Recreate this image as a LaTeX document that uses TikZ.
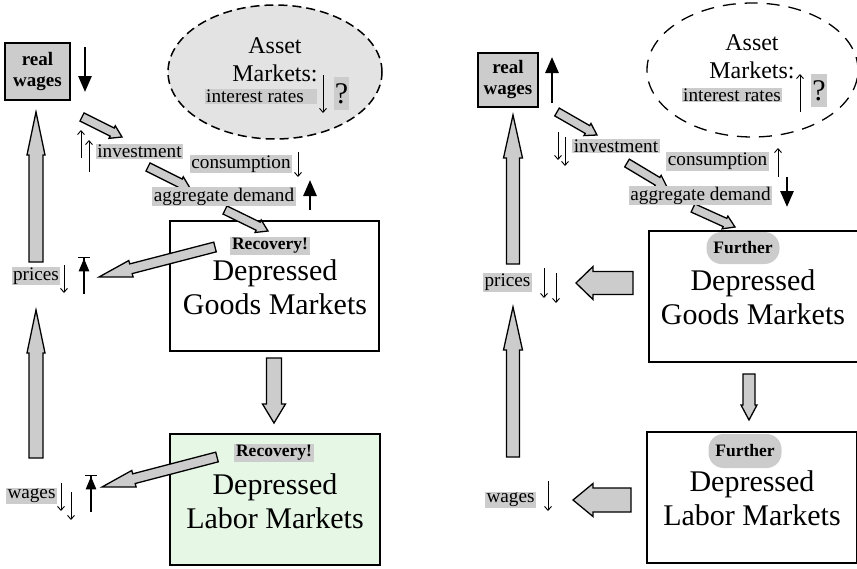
\documentclass[tikz,border=0pt]{standalone}
\usepackage{fontspec}
\setmainfont{Liberation Serif}
\usetikzlibrary{calc,arrows.meta,shapes.geometric}
\definecolor{lgray}{HTML}{CCCCCC}
\definecolor{egray}{HTML}{E3E3E3}
\definecolor{lgreen}{HTML}{E6F7E6}
% #1 options, #2 tail, #3 tip, #4 shaft half width, #5 head half width, #6 head length
\newcommand{\blockarr}[6][]{%
  \coordinate (ba-c) at ($(#3)!#6!(#2)$);
  \draw[blockarrow,#1] ($(#2)!#4!90:(#3)$) -- ($(ba-c)!#4!90:(#3)$) -- ($(ba-c)!#5!90:(#3)$) -- (#3)
     -- ($(ba-c)!#5!-90:(#3)$) -- ($(ba-c)!#4!-90:(#3)$) -- ($(#2)!#4!-90:(#3)$) -- cycle;
}
\begin{document}
\begin{tikzpicture}[x=1pt,y=-1pt,
 lbl/.style={fill=lgray,inner xsep=1.5pt,inner ysep=1pt,font=\fontsize{19.2}{21}\selectfont},
 bl/.style={fill=lgray,inner xsep=2pt,inner ysep=1pt,font=\bfseries\fontsize{17.5}{19}\selectfont},
 further/.style={fill=lgray,rounded corners=15pt,minimum width=73pt,minimum height=32pt,font=\bfseries\fontsize{17.5}{19}\selectfont,inner sep=0pt},
 big/.style={align=center,font=\fontsize{30}{34}\selectfont,inner sep=0pt},
 asset/.style={align=center,font=\fontsize{24}{28}\selectfont,inner sep=0pt},
 market/.style={draw,line width=2pt,inner sep=0pt},
 rwbox/.style={draw,fill=lgray,line width=1.5pt,inner sep=0pt,align=center,font=\bfseries\fontsize{19}{21}\selectfont},
 qbox/.style={fill=lgray,inner xsep=1pt,inner ysep=0pt,minimum height=33pt,font=\fontsize{30}{30}\selectfont},
 blockarrow/.style={draw,fill=lgray,line width=1.3pt,line join=miter},
 thinarr/.style={line width=0.9pt,-{Straight Barb[length=4pt,width=7pt]}},
 thickarr/.style={line width=2.8pt,-{Triangle[length=16pt,width=13pt]}},
 tarr/.style={line width=2.4pt,-{Triangle[length=13pt,width=10pt]Bar[width=12pt,line width=1.3pt]}},
]
\useasboundingbox (0,0) rectangle (857,568);

% ================= LEFT PANEL =================
\node[ellipse,draw,fill=egray,line width=1.5pt,dash pattern=on 9pt off 5pt,minimum width=214pt,minimum height=134pt] (a1) at (275,72) {};
\node[market,minimum width=209pt,minimum height=130pt] (g1) at (274.5,286) {};
\node[market,fill=lgreen,minimum width=210pt,minimum height=131pt] (l1) at (275,499.5) {};
\node[rwbox,minimum width=65pt,minimum height=57pt] (rw1) at (37.5,71.5) {real\\wages};

% connector end points
\coordinate (t1a) at (82,117);  \coordinate (h1a) at (122,137);
\coordinate (t1b) at (148,167); \coordinate (h1b) at (190,188);
\coordinate (t1c) at (225,210); \coordinate (h1c) at (268,231);
\coordinate (t1d) at (215,247); \coordinate (h1d) at (99,277);
\coordinate (t1e) at (217,457); \coordinate (h1e) at (102,487);
\coordinate (t1f) at (36,262);  \coordinate (h1f) at (36,112);
\coordinate (t1g) at (36,458);  \coordinate (h1g) at (36,310);
\coordinate (t1h) at (274,358); \coordinate (h1h) at (274,423);

\blockarr{t1a}{h1a}{4.5pt}{7pt}{11pt}
\blockarr{t1b}{h1b}{4.5pt}{7pt}{11pt}
\blockarr{t1c}{h1c}{4.5pt}{7pt}{11pt}
\blockarr{t1f}{h1f}{7pt}{9pt}{43pt}
\blockarr{t1g}{h1g}{7pt}{9pt}{43pt}
\blockarr{t1h}{h1h}{7.5pt}{11.5pt}{19pt}
\blockarr{t1d}{h1d}{5pt}{8.5pt}{33pt}
\blockarr{t1e}{h1e}{5pt}{8.5pt}{33pt}

\node[asset] (as1) at (275,60) {Asset\\Markets:};
\node[lbl] (ir1) at (261,96.5) {interest rates\hspace*{12pt}};
\node[qbox] (q1) at (341.5,93.5) {?};
\node[lbl] (inv1) at (139.5,151.5) {investment};
\node[lbl] (con1) at (241,164) {consumption};
\node[lbl] (agg1) at (224,196.5) {aggregate demand};
\node[bl] (rec1) at (270,246) {Recovery!};
\node[big] (gt1) at (275,287) {Depressed\\Goods Markets};
\node[lbl] (pr1) at (36,276) {prices};
\node[bl] (rec2) at (274,453) {Recovery!};
\node[big] (lt1) at (275,501) {Depressed\\Labor Markets};
\node[lbl] (wg1) at (31.5,496) {wages};

% indicator arrows
\draw[thickarr] (85,47) -- (85,92);
\draw[thinarr] (81,158) -- (81,130);
\draw[thinarr] (89,172) -- (89,140);
\draw[thinarr] (323,75) -- (323,113);
\draw[thinarr] (298,152) -- (298,177);
\draw[thickarr] (310,210) -- (310,180);
\draw[thinarr] (64,265) -- (64,293);
\draw[tarr] (84,294) -- (84,257);
\draw[thinarr] (61,483) -- (61,511);
\draw[thinarr] (71,492) -- (71,520);
\draw[tarr] (91,512) -- (91,475);

% ================= RIGHT PANEL =================
\node[ellipse,draw,line width=1.3pt,dash pattern=on 13pt off 9pt,minimum width=211pt,minimum height=134pt] (a2) at (752.5,70) {};
\node[market,minimum width=209pt,minimum height=131pt] (g2) at (753.5,296.5) {};
\node[market,minimum width=210pt,minimum height=131pt] (l2) at (752,497.5) {};
\node[rwbox,minimum width=60pt,minimum height=54pt] (rw2) at (508,80) {real\\wages};

\coordinate (t2a) at (557,112); \coordinate (h2a) at (597,135);
\coordinate (t2b) at (627,163); \coordinate (h2b) at (667,187);
\coordinate (t2c) at (693,208); \coordinate (h2c) at (735,227);
\coordinate (t2d) at (633,283); \coordinate (h2d) at (576,283);
\coordinate (t2e) at (631,500); \coordinate (h2e) at (573,500);
\coordinate (t2f) at (513,264); \coordinate (h2f) at (513,115);
\coordinate (t2g) at (513,457); \coordinate (h2g) at (513,307);
\coordinate (t2h) at (749,374); \coordinate (h2h) at (749,420);

\blockarr{t2a}{h2a}{4.5pt}{7pt}{11pt}
\blockarr{t2b}{h2b}{4.5pt}{7pt}{11pt}
\blockarr{t2c}{h2c}{4.5pt}{7pt}{11pt}
\blockarr{t2f}{h2f}{6.5pt}{9.5pt}{43pt}
\blockarr{t2g}{h2g}{6.5pt}{9.5pt}{43pt}
\blockarr{t2h}{h2h}{6pt}{8pt}{15pt}
\blockarr{t2d}{h2d}{11.5pt}{16.5pt}{17pt}
\blockarr{t2e}{h2e}{12pt}{16.5pt}{20pt}

\node[asset] (as2) at (752,57) {Asset\\Markets:};
\node[lbl] (ir2) at (732,95) {interest rates};
\node[qbox] (q2) at (819,90.5) {?};
\node[lbl] (inv2) at (616,146) {investment};
\node[lbl] (con2) at (717.5,161.5) {consumption};
\node[lbl] (agg2) at (700.5,195.5) {aggregate demand};
\node[further] (fu1) at (743,248) {Further};
\node[big] (gt2) at (753,297) {Depressed\\Goods Markets};
\node[lbl] (pr2) at (507.5,282.5) {prices};
\node[further,minimum height=34pt] (fu2) at (745,451) {Further};
\node[big] (lt2) at (752,498) {Depressed\\Labor Markets};
\node[lbl] (wg2) at (510.5,499.5) {wages};

\draw[thickarr] (552,103) -- (552,57);
\draw[thinarr] (558,132) -- (558,160);
\draw[thinarr] (565,137) -- (565,166);
\draw[thinarr] (800,112) -- (800,74);
\draw[thinarr] (778,177) -- (778,148);
\draw[thickarr] (787,177) -- (787,207);
\draw[thinarr] (544,268) -- (544,298);
\draw[thinarr] (556,273) -- (556,303);
\draw[thinarr] (548,481) -- (548,511);
\end{tikzpicture}
\end{document}
